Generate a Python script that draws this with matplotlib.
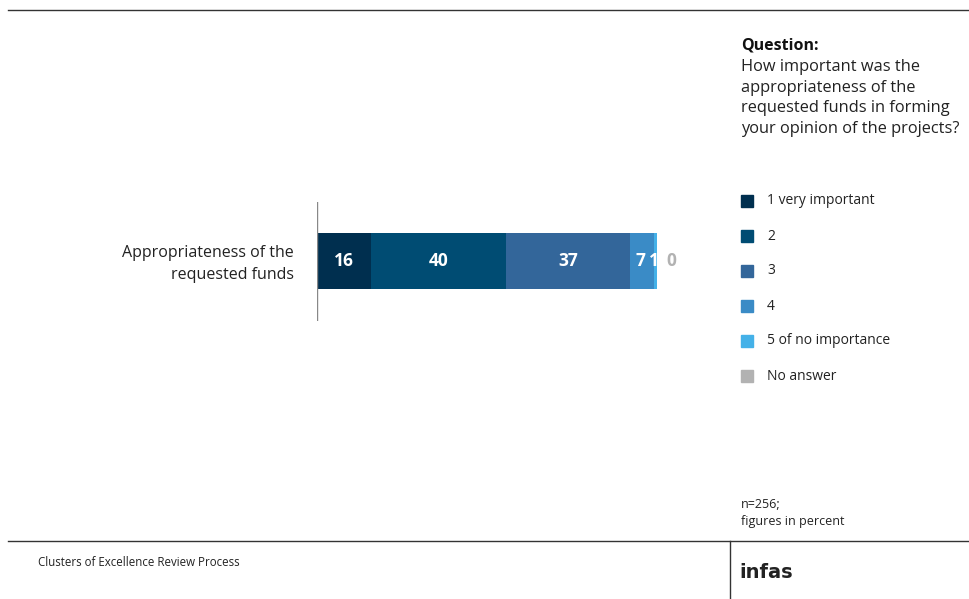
import matplotlib.pyplot as plt
from matplotlib.lines import Line2D
from matplotlib.patches import Rectangle

plt.rcParams['font.family'] = ['Open Sans', 'DejaVu Sans']

# data
category = "Appropriateness of the\nrequested funds"
answers = ['1 very important', '2', '3', '4', '5 of no importance', 'No answer']
shares = [16, 40, 37, 7, 1, 0]
colors = ['#002f4f', '#004c73', '#33669a', '#3a8bc6', '#44b1e8', '#b2b2b2']
question = ("How important was the\nappropriateness of the\n"
            "requested funds in forming\nyour opinion of the projects?")
note = "n=256;\nfigures in percent"
footer = "Clusters of Excellence Review Process"

W, H = 970, 599
fig = plt.figure(figsize=(W / 100, H / 100), dpi=100)


def fx(px):
    return px / W


def fy(py):
    return 1 - py / H


# bar axes: x from 317px, 3.37 px per percent; y from 202 to 321 px
ax_left, ax_right = 317, 720
ax_top, ax_bot = 202, 321
ax = fig.add_axes([fx(ax_left), fy(ax_bot), fx(ax_right - ax_left), (ax_bot - ax_top) / H])
ax.set_xlim(0, (ax_right - ax_left) / 3.37)
ax.set_ylim(-1, 1)
ax.axis('off')
ax.axvline(0, color='#888888', lw=1)

bar_h = 2 * 56 / (ax_bot - ax_top)
left = 0
for i, (v, c) in enumerate(zip(shares, colors)):
    if v > 0:
        ax.barh(0.01, v, left=left, height=bar_h, color=c, edgecolor='none')
        x = left + v / 2
        if v < 10:
            x -= 0.6
        ax.text(x, 0, str(v), ha='center', va='center',
                color='white', fontsize=12.5, fontweight='bold')
    else:
        ax.text(left + 2.8, 0, str(v), ha='left', va='center',
                color=c, fontsize=12.5, fontweight='bold')
    left += v

fig.text(fx(294), fy(264), category, ha='right', va='center',
         fontsize=11.5, color='#222222', linespacing=1.45)

# question block
fig.text(fx(741), fy(45), "Question:", ha='left', va='center',
         fontsize=11.5, fontweight='bold', color='#111111')
fig.text(fx(741), fy(59), question, ha='left', va='top',
         fontsize=11.8, color='#222222', linespacing=1.38)

# legend
for i, (lab, c) in enumerate(zip(answers, colors)):
    yc = 201 + 35 * i
    fig.patches.append(Rectangle((fx(741), fy(yc + 6)), fx(12), 12 / H,
                                 transform=fig.transFigure, color=c))
    fig.text(fx(767), fy(yc), lab, ha='left', va='center',
             fontsize=10, color='#222222')

fig.text(fx(741), fy(513), note, ha='left', va='center',
         fontsize=9, color='#222222', linespacing=1.3)

# frame lines
fig.add_artist(Line2D([fx(8), 1], [fy(10), fy(10)], color='#333333', lw=1))
fig.add_artist(Line2D([fx(8), 1], [fy(541), fy(541)], color='#333333', lw=1))
fig.add_artist(Line2D([fx(730), fx(730)], [fy(541), 0], color='#333333', lw=1))

fig.text(fx(38), fy(562), footer, ha='left', va='center', fontsize=8.3, color='#222222')
fig.text(fx(739), fy(572), "infas", ha='left', va='center', fontsize=14,
         fontweight='bold', color='#222222',
         family=['Liberation Sans Narrow', 'DejaVu Sans'])

fig.savefig('out.png', dpi=100)
